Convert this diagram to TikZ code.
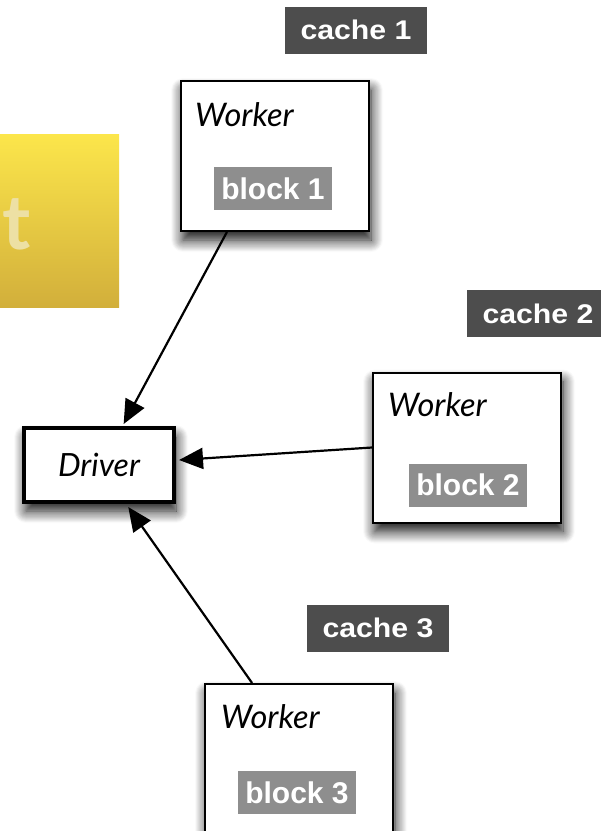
\documentclass[tikz,border=0pt]{standalone}
\usepackage{fontspec}
\usetikzlibrary{arrows.meta,calc,shadows.blur}
\newfontfamily\labfont{Liberation Sans}
\newfontfamily\cachefont[FakeStretch=1.12]{Liberation Sans}
\newfontfamily\wkfont{Lato}
\definecolor{cachegray}{HTML}{4D4D4D}
\definecolor{blockgray}{HTML}{8E8E8E}
\definecolor{ytop}{HTML}{FCE64B}
\definecolor{ybot}{HTML}{D2AF3B}
\definecolor{tcream}{HTML}{EDE0A4}
\tikzset{
  softshadow/.style={blur shadow={shadow xshift=2pt, shadow yshift=-9pt, shadow blur radius=12pt, shadow blur steps=12, shadow opacity=95}},
  worker/.style={draw=black, line width=2pt, fill=white, minimum width=188pt, minimum height=150pt, inner sep=0pt, softshadow},
  driverbox/.style={draw=black, line width=4pt, fill=white, minimum width=150pt, minimum height=74pt, inner sep=0pt, softshadow, font=\wkfont\itshape\fontsize{32}{32}\selectfont},
  cachebox/.style={fill=cachegray, text=white, minimum width=142pt, minimum height=47pt, inner sep=0pt, font=\cachefont\bfseries\fontsize{27}{27}\selectfont},
  blockbox/.style={fill=blockgray, text=white, minimum width=118pt, minimum height=43pt, inner sep=0pt, font=\labfont\bfseries\fontsize{30}{30}\selectfont},
  wlabel/.style={anchor=base west, inner sep=0pt, font=\wkfont\itshape\fontsize{32.5}{32.5}\selectfont},
  banner/.style={top color=ytop, bottom color=ybot, minimum width=119pt, minimum height=173pt, inner sep=0pt},
  conn/.style={line width=2.2pt, -{Triangle[length=24pt,width=21pt]}},
}
\begin{document}
\begin{tikzpicture}[x=1pt,y=-1pt]
\useasboundingbox (0,0) rectangle (601,831);
% banner
\node[banner] (ban) at (59.5,220.5) {};
\node[anchor=base east, text=tcream, inner sep=0pt, font=\wkfont\bfseries\fontsize{76}{76}\selectfont] (bant) at (31,249) {t};
% caches
\node[cachebox] (c1) at (356,30) {cache 1};
\node[cachebox] (c2) at (538,313.5) {cache 2};
\node[cachebox] (c3) at (378,628) {cache 3};
% workers
\node[worker] (w1) at (275,156) {};
\node[worker] (w2) at (467,447.5) {};
\node[worker] (w3) at (299,759) {};
\node[wlabel] (w1l) at ($(w1.north west)+(15,46)$) {Worker};
\node[wlabel] (w2l) at ($(w2.north west)+(16,45)$) {Worker};
\node[wlabel] (w3l) at ($(w3.north west)+(17,45)$) {Worker};
\node[blockbox] (b1) at (273,188.5) {block 1};
\node[blockbox] (b2) at (468,485) {block 2};
\node[blockbox] (b3) at (297,792.5) {block 3};
% driver
\node[driverbox] (drv) at (99,465) {Driver};
% connectors
\draw[conn] ($(w1.south west)!0.247!(w1.south east)$) -- ($(drv.north west)!0.66!(drv.north east)+(0,-2)$);
\draw[conn] (w2.west) -- ($(drv.east)+(3,-5)$);
\draw[conn] ($(w3.north west)!0.253!(w3.north east)$) -- ($(drv.south west)!0.69!(drv.south east)+(0,3)$);
\end{tikzpicture}
\end{document}
